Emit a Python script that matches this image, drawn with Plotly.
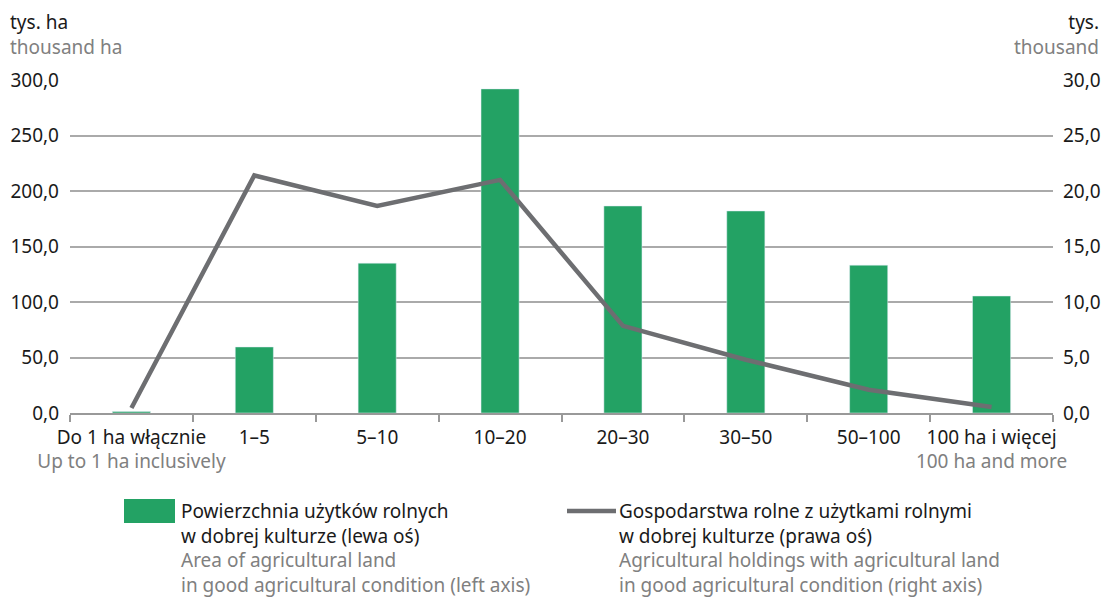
import plotly.graph_objects as go

W, H = 1103, 599
L, R, T, B = 70, 50, 80, 186

categories = ["Do 1 ha włącznie", "1–5", "5–10", "10–20", "20–30", "30–50", "50–100", "100 ha i więcej"]
categories_en = ["Up to 1 ha inclusively", "", "", "", "", "", "", "100 ha and more"]
area_kha = [1.3, 59.5, 135.0, 292.0, 186.5, 182.0, 133.2, 105.4]
holdings_k = [0.45, 21.4, 18.65, 21.0, 7.85, 4.8, 2.1, 0.55]
left_ticks = [0, 50, 100, 150, 200, 250, 300]
right_ticks = [0, 5, 10, 15, 20, 25, 30]

GREEN = "#23a264"
LINE = "#6d6e71"
GREY_TXT = "#808080"
FONT = "Noto Sans"


def px_x(p):
    return (p - L) / (W - L - R)


def px_y(p):
    return (H - B - p) / (H - T - B)


def two_lines(pl, en):
    return f"{pl}<br><span style='color:{GREY_TXT}'>{en}</span>" if en else pl


fig = go.Figure()
fig.add_trace(go.Bar(x=categories, y=area_kha, marker_color=GREEN, width=0.31,
                     name="area", showlegend=False))
fig.add_trace(go.Scatter(x=categories, y=holdings_k, yaxis="y2", mode="lines",
                         line=dict(color=LINE, width=4.5), name="holdings",
                         showlegend=False))

fig.update_layout(
    width=W, height=H,
    margin=dict(l=L, r=R, t=T, b=B),
    plot_bgcolor="white", paper_bgcolor="white",
    font=dict(family=FONT, size=19, color="#1a1a1a"),
    separators=", ",
    xaxis=dict(
        tickmode="array", tickvals=categories, tickangle=0, automargin=False,
        ticktext=[two_lines(a, b) for a, b in zip(categories, categories_en)],
        showline=True, linecolor="#999999", linewidth=1.5,
        ticks="outside", tickson="boundaries", ticklen=7, tickcolor="#999999",
        tickwidth=1.5, showgrid=False, ticklabelstandoff=6,
    ),
    yaxis=dict(
        range=[0, 300], tickvals=left_ticks, tickformat=".1f", automargin=False,
        showgrid=True, gridcolor="#aaaaaa", gridwidth=1.5, zeroline=False,
        showline=False, ticks="", ticklabelstandoff=10,
    ),
    yaxis2=dict(
        range=[0, 30], tickvals=right_ticks, tickformat=".1f", automargin=False,
        overlaying="y", side="right", showgrid=False, zeroline=False,
        showline=False, ticks="", ticklabelstandoff=9,
    ),
)

# axis unit headers
fig.add_annotation(x=px_x(8), y=px_y(7), xref="paper", yref="paper",
                   xanchor="left", yanchor="top", align="left", showarrow=False,
                   text=two_lines("tys. ha", "thousand ha"))
fig.add_annotation(x=px_x(1101), y=px_y(7), xref="paper", yref="paper",
                   xanchor="right", yanchor="top", align="right", showarrow=False,
                   text=two_lines("tys.", "thousand"))

# legend drawn by hand
fig.add_shape(type="rect", xref="paper", yref="paper",
              x0=px_x(124), x1=px_x(175), y0=px_y(499), y1=px_y(523),
              fillcolor=GREEN, line_width=0)
fig.add_shape(type="line", xref="paper", yref="paper",
              x0=px_x(567), x1=px_x(616), y0=px_y(511), y1=px_y(511),
              line=dict(color=LINE, width=4.5))
fig.add_annotation(x=px_x(179), y=px_y(496), xref="paper", yref="paper",
                   xanchor="left", yanchor="top", align="left", showarrow=False,
                   text="Powierzchnia użytków rolnych<br>w dobrej kulturze (lewa oś)<br>"
                        f"<span style='color:{GREY_TXT}'>Area of agricultural land<br>"
                        "in good agricultural condition (left axis)</span>")
fig.add_annotation(x=px_x(617), y=px_y(496), xref="paper", yref="paper",
                   xanchor="left", yanchor="top", align="left", showarrow=False,
                   text="Gospodarstwa rolne z użytkami rolnymi<br>w dobrej kulturze (prawa oś)<br>"
                        f"<span style='color:{GREY_TXT}'>Agricultural holdings with agricultural land<br>"
                        "in good agricultural condition (right axis)</span>")

fig.write_html("out.html", config={"displayModeBar": False, "responsive": False},
               post_script="document.body.style.margin='0';document.body.style.overflow='hidden';")
